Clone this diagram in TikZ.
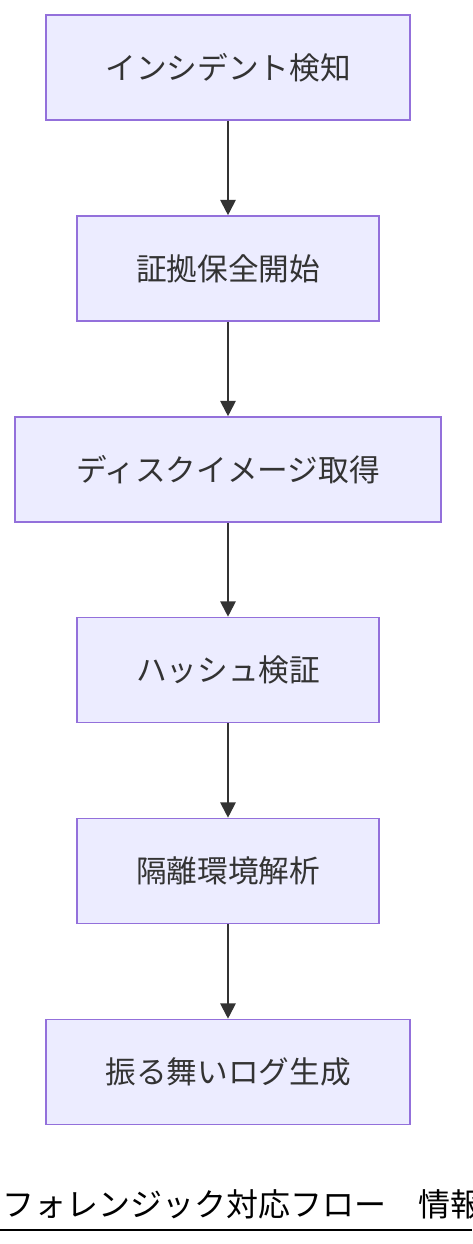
\documentclass[tikz,border=0pt]{standalone}
\usepackage{fontspec}
\setmainfont{Noto Sans CJK JP}
\usetikzlibrary{arrows.meta}
\definecolor{etapefond}{HTML}{ECECFF}
\definecolor{etapebord}{HTML}{9370DB}
\definecolor{encre}{HTML}{333333}
\tikzset{
  etape/.style={draw=etapebord, fill=etapefond, line width=1.2pt, text=encre,
    minimum height=78.75pt, font=\fontsize{23}{27}\selectfont},
  fleche/.style={draw=encre, line width=1.5pt, -{Triangle[length=11.5pt,width=11.5pt]}},
}
\begin{document}
\begin{tikzpicture}[x=0.75pt,y=-0.75pt]
  \useasboundingbox (0,0) rectangle (472,1244);
  \node[etape,minimum width=273pt] (detect) at (228,67.5) {インシデント検知};
  \node[etape,minimum width=226.5pt] (preserve) at (228,268.5) {証拠保全開始};
  \node[etape,minimum width=319.5pt] (image) at (228,469.5) {ディスクイメージ取得};
  \node[etape,minimum width=226.5pt] (hash) at (228,670) {ハッシュ検証};
  \node[etape,minimum width=226.5pt] (isole) at (228,871) {隔離環境解析};
  \node[etape,minimum width=273pt] (log) at (228,1072) {振る舞いログ生成};
  \foreach \a/\b in {detect/preserve,preserve/image,image/hash,hash/isole,isole/log}
    \draw[fleche] (\a) -- (\b);
  % legende, coupee au bord droit
  \begin{scope}
    \clip (0,0) rectangle (472,1244);
    \node[anchor=west, inner sep=0pt, font=\fontsize{24}{28}\selectfont] (titre) at (2,1204)
      {フォレンジック対応フロー　情報セキュリティ};
  \end{scope}
  \coordinate (soulg) at (0,1230);
  \coordinate (sould) at (472,1230);
  \draw[line width=1.5pt] (soulg) -- (sould);
\end{tikzpicture}
\end{document}
